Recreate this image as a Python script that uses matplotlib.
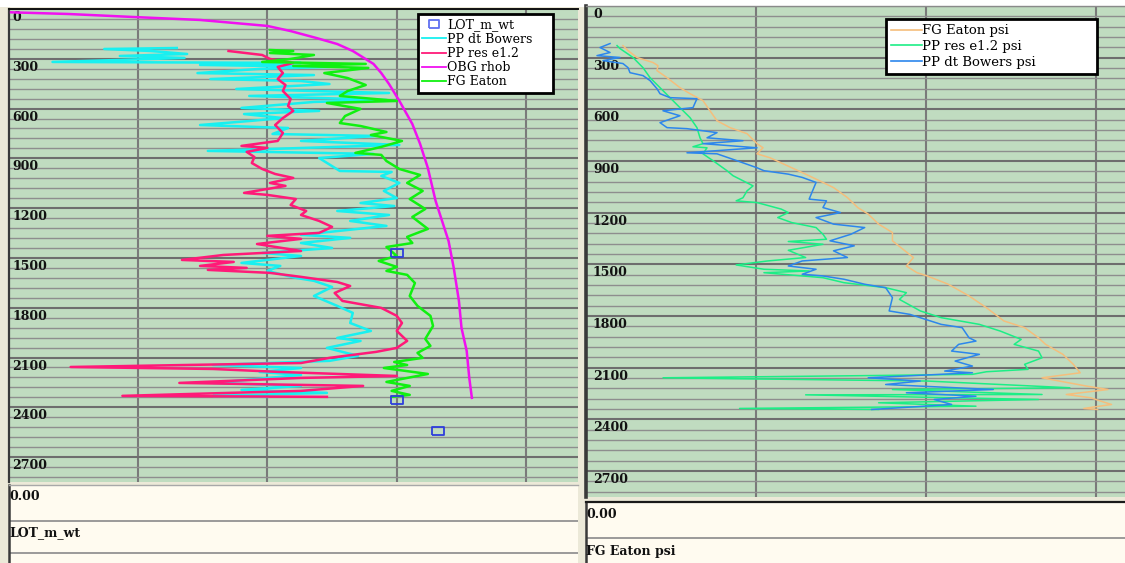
import matplotlib
matplotlib.use("Agg")
import matplotlib.pyplot as plt
from matplotlib.lines import Line2D
from matplotlib.patches import Rectangle

# ---------------- data ----------------
depth_major = list(range(0, 2701, 300))
depth_minor = list(range(0, 2851, 60))
depth_max = 2850

# left track: gradients (sg)
lot_depth = [1470, 2355, 2542]
lot_sg = [1.50, 1.50, 1.66]

bowers_depth = [235, 241, 253, 271, 283, 295, 319, 325, 337, 349, 361, 386, 398, 422, 434, 452,
                482, 506, 524, 548, 560, 596, 614, 633, 657, 675, 699, 717, 753, 765, 795, 819,
                855, 873, 898, 976, 982, 1006, 1048, 1096, 1139, 1169, 1187, 1217, 1241, 1277,
                1307, 1361, 1379, 1410, 1440, 1470, 1488, 1530, 1548, 1578, 1620, 1638, 1675,
                1729, 1789, 1831, 1892, 1940, 1982, 2000, 2042, 2090, 2120, 2145, 2163, 2187,
                2205, 2253, 2271, 2295, 2313, 2331, 2337]
bowers_sg = [0.65, 0.37, 0.55, 0.69, 0.43, 0.68, 0.17, 1.13, 0.74, 1.24, 0.97, 0.73, 1.18, 0.78,
             1.13, 1.24, 0.88, 1.47, 0.93, 1.46, 1.18, 0.90, 1.20, 0.91, 1.06, 0.93, 0.74, 1.08,
             1.02, 1.42, 1.13, 1.51, 0.77, 1.41, 1.20, 1.28, 1.48, 1.44, 1.51, 1.45, 1.50, 1.36,
             1.49, 1.27, 1.47, 1.32, 1.46, 1.13, 1.32, 1.13, 1.25, 0.98, 1.13, 0.90, 1.05, 1.00,
             1.11, 1.18, 1.25, 1.18, 1.27, 1.33, 1.32, 1.40, 1.27, 1.36, 1.23, 1.35, 1.24, 0.79,
             1.13, 0.97, 1.13, 0.79, 1.13, 0.90, 1.23, 0.79, 1.00]

res_depth = [253, 277, 301, 325, 349, 386, 422, 458, 494, 542, 584, 614, 657, 699, 747, 795,
             825, 837, 861, 892, 928, 964, 994, 1018, 1048, 1066, 1108, 1120, 1145, 1181, 1217,
             1241, 1277, 1313, 1349, 1367, 1385, 1416, 1458, 1482, 1512, 1524, 1548, 1560, 1572,
             1590, 1614, 1645, 1669, 1711, 1759, 1801, 1849, 1892, 1940, 2000, 2042, 2066, 2102,
             2133, 2157, 2169, 2187, 2211, 2223, 2253, 2271, 2301, 2331, 2337]
res_sg = [0.85, 0.98, 1.01, 1.10, 1.04, 1.06, 1.04, 1.07, 1.06, 1.09, 1.08, 1.10, 1.06, 1.03,
          1.06, 1.04, 0.90, 1.00, 0.92, 0.95, 0.94, 0.98, 1.03, 1.10, 1.01, 1.07, 0.91, 1.00,
          1.11, 1.09, 1.15, 1.13, 1.20, 1.25, 1.20, 1.00, 1.13, 0.96, 1.13, 0.83, 0.67, 0.87,
          0.74, 0.92, 0.77, 1.01, 1.13, 1.27, 1.32, 1.26, 1.29, 1.44, 1.50, 1.52, 1.50, 1.54,
          1.50, 1.42, 1.24, 1.13, 0.24, 0.79, 1.05, 1.50, 1.13, 0.66, 1.37, 1.13, 0.44, 1.23]

obg_depth = [20, 30, 48, 66, 102, 133, 175, 211, 253, 331, 386, 452, 554, 693, 813, 958, 1157,
             1398, 1560, 1759, 1922, 2060, 2223, 2343]
obg_sg = [0.01, 0.23, 0.48, 0.74, 1.00, 1.09, 1.19, 1.27, 1.33, 1.41, 1.44, 1.47, 1.51, 1.56,
          1.59, 1.62, 1.65, 1.70, 1.72, 1.74, 1.75, 1.77, 1.78, 1.79]

fg_depth = [247, 253, 265, 277, 301, 319, 331, 343, 355, 386, 416, 458, 494, 524, 554, 566,
            602, 645, 687, 705, 741, 759, 795, 831, 867, 879, 916, 964, 1000, 1048, 1096, 1145,
            1205, 1253, 1325, 1373, 1410, 1434, 1488, 1518, 1554, 1578, 1602, 1651, 1729, 1789,
            1849, 1910, 1988, 2030, 2072, 2102, 2127, 2145, 2163, 2199, 2223, 2247, 2271, 2301,
            2325, 2337]
fg_sg = [1.01, 1.10, 1.01, 1.18, 1.09, 0.98, 1.38, 1.10, 1.39, 1.22, 1.31, 1.38, 1.31, 1.28,
         1.50, 1.23, 1.36, 1.30, 1.28, 1.36, 1.46, 1.40, 1.52, 1.44, 1.34, 1.44, 1.46, 1.51,
         1.59, 1.54, 1.60, 1.55, 1.61, 1.56, 1.62, 1.54, 1.56, 1.46, 1.50, 1.43, 1.50, 1.46,
         1.54, 1.57, 1.55, 1.58, 1.63, 1.64, 1.61, 1.63, 1.58, 1.60, 1.49, 1.54, 1.45, 1.62,
         1.54, 1.46, 1.55, 1.48, 1.55, 1.48]

# right track: pressures (psi)
fg_psi_depth = [230, 259, 299, 328, 346, 375, 416, 474, 509, 549, 608, 666, 706, 741, 799, 823,
                858, 881, 976, 1024, 1054, 1112, 1170, 1208, 1266, 1315, 1363, 1412, 1460, 1509,
                1548, 1567, 1615, 1683, 1751, 1828, 1867, 1926, 1964, 2022, 2080, 2129, 2158,
                2177, 2207, 2226, 2255, 2274, 2294, 2313, 2336, 2342]
fg_psi = [326, 371, 450, 591, 635, 626, 715, 829, 918, 1032, 1094, 1156, 1271, 1421, 1509, 1562,
          1509, 1624, 1938, 2091, 2184, 2307, 2398, 2490, 2582, 2704, 2704, 2797, 2889, 2827,
          2920, 3012, 3196, 3380, 3533, 3687, 3870, 3993, 4055, 4208, 4300, 4361, 4024, 4177,
          4423, 4606, 4238, 4453, 4545, 4637, 4392, 4514]

res_psi_depth = [230, 247, 299, 358, 416, 474, 532, 590, 648, 706, 765, 799, 817, 823, 858, 898,
                 956, 985, 1044, 1073, 1113, 1131, 1141, 1179, 1199, 1228, 1257, 1286, 1325,
                 1354, 1367, 1383, 1418, 1460, 1480, 1503, 1528, 1538, 1548, 1577, 1606, 1635,
                 1664, 1703, 1770, 1809, 1848, 1887, 1935, 1964, 2003, 2042, 2080, 2109, 2123,
                 2138, 2146, 2158, 2177, 2216, 2226, 2255, 2257, 2284, 2303, 2323, 2336, 2342]
res_psi = [274, 300, 415, 503, 565, 653, 741, 829, 918, 979, 1006, 1032, 944, 1068, 1032, 1121,
           1244, 1297, 1474, 1421, 1385, 1325, 1509, 1723, 1785, 1692, 1815, 2030, 2091, 2122,
           1785, 2091, 1785, 1938, 1601, 1325, 1570, 1969, 1570, 2091, 2276, 2644, 2827, 2766,
           2950, 3134, 3471, 3656, 3840, 3778, 3993, 4024, 3870, 3901, 3533, 3410, 2398, 680,
           3012, 4269, 2704, 4024, 1938, 3993, 2582, 3441, 1355, 2582]

bowers_psi_depth = [218, 241, 270, 288, 299, 317, 334, 358, 387, 404, 433, 480, 509, 532, 538,
                    590, 608, 637, 677, 706, 712, 735, 765, 782, 799, 823, 852, 858, 898, 939,
                    956, 976, 995, 1024, 1121, 1131, 1170, 1199, 1228, 1266, 1286, 1325, 1363,
                    1392, 1421, 1460, 1480, 1509, 1528, 1557, 1567, 1586, 1615, 1635, 1693, 1770,
                    1790, 1848, 1867, 1926, 1945, 1964, 2003, 2022, 2061, 2090, 2119, 2129, 2158,
                    2177, 2197, 2226, 2245, 2265, 2284, 2313, 2342]
bowers_psi = [212, 124, 212, 97, 300, 150, 326, 371, 388, 503, 565, 626, 653, 741, 979, 944, 679,
              829, 653, 715, 891, 1156, 1068, 1385, 1032, 1509, 891, 1156, 1332, 1509, 1570,
              1785, 1908, 2030, 1969, 2122, 2091, 2245, 2030, 2184, 2459, 2337, 2153, 2367, 2184,
              2307, 1908, 1785, 2030, 1908, 2091, 2276, 2459, 2644, 2704, 2675, 2858, 3134, 3319,
              3380, 3441, 3288, 3226, 3471, 3257, 3410, 3165, 3410, 2490, 2950, 2644, 3594, 2827,
              3441, 3073, 3226, 2521]

left_labels = ["LOT_m_wt", "PP dt Bowers", "PP res e1.2", "OBG rhob", "FG Eaton"]
right_labels = ["FG Eaton psi", "PP res e1.2 psi", "PP dt Bowers psi"]

# ---------------- styling ----------------
W, H = 1125, 563
TRACK_BG = "#C0DCC0"
PANEL_BG = "#FFFBF0"
SERIF = "DejaVu Serif"

c_lot, c_bowers, c_res, c_obg, c_fg = "#2E3EDC", "#18F0F0", "#FF1A78", "#F010F0", "#10F010"
c_fg_psi, c_res_psi, c_bowers_psi = "#F5BE7C", "#1CEE86", "#2C86EC"

fig = plt.figure(figsize=(W / 100, H / 100), dpi=100, facecolor="#ECE9D8")


def frame(x0, y0, x1, y1):
    return [x0 / W, 1 - y1 / H, (x1 - x0) / W, (y1 - y0) / H]


fig.add_artist(Rectangle((0, 1 - 7 / H), 1, 7 / H, transform=fig.transFigure,
                         facecolor="white", edgecolor="none", zorder=-1))


def style_track(ax, xmax, xgrid, label_dx):
    ax.set_facecolor(TRACK_BG)
    ax.set_xlim(0, xmax)
    ax.set_ylim(depth_max, 0)
    ax.set_xticks(xgrid)
    ax.set_yticks(depth_major)
    ax.set_yticks(depth_minor, minor=True)
    ax.tick_params(which="both", length=0, labelleft=False, labelbottom=False)
    ax.grid(True, which="major", axis="x", color="#7A7A7A", lw=1.5)
    ax.grid(True, which="major", axis="y", color="#6E6E6E", lw=1.5)
    ax.grid(True, which="minor", axis="y", color="#8E8E8E", lw=1.0)
    ax.set_axisbelow(True)
    for d in depth_major:
        ax.annotate(f"{d}", xy=(0, d), xycoords=("axes fraction", "data"),
                    xytext=(label_dx, -2), textcoords="offset pixels",
                    ha="left", va="top", fontsize=9, fontweight="bold",
                    family=SERIF, color="#111111", zorder=2)
    for s in ("right", "bottom"):
        ax.spines[s].set_visible(False)


# left track
axL = fig.add_axes(frame(8.5, 9, 578, 482))
style_track(axL, 2.2, [0.5, 1.0, 1.5, 2.0], 4)
axL.spines["left"].set_color("#3A3A3A")
axL.spines["left"].set_linewidth(1.6)
axL.spines["top"].set_color("#111111")
axL.spines["top"].set_linewidth(1.4)

rect_marker = [(-1.45, -1), (1.45, -1), (1.45, 1), (-1.45, 1), (-1.45, -1)]
axL.plot(bowers_sg, bowers_depth, color=c_bowers, lw=1.8, zorder=3)
axL.plot(res_sg, res_depth, color=c_res, lw=1.8, zorder=3)
axL.plot(obg_sg, obg_depth, color=c_obg, lw=1.8, zorder=3)
axL.plot(fg_sg, fg_depth, color=c_fg, lw=1.8, zorder=3)
axL.plot(lot_sg, lot_depth, ls="none", marker=rect_marker, ms=8.5, mfc="none",
         mec=c_lot, mew=1.3, zorder=4)

hL = [Line2D([], [], ls="none", marker=rect_marker, ms=7.5, mfc="none", mec="#6070F0", mew=1.3),
      Line2D([], [], color=c_bowers, lw=1.3),
      Line2D([], [], color=c_res, lw=1.3),
      Line2D([], [], color=c_obg, lw=1.3),
      Line2D([], [], color=c_fg, lw=1.3)]
legL = axL.legend(hL, left_labels, loc="upper left",
                  bbox_to_anchor=frame(418, 14, 553, 98)[:2] + [135 / W, 84 / H],
                  bbox_transform=fig.transFigure, mode="expand", borderaxespad=0,
                  fancybox=False, framealpha=1, edgecolor="black",
                  prop=dict(family=SERIF, size=9), handlelength=1.9, handletextpad=0.1,
                  labelspacing=0.1, borderpad=0.35)
legL.get_frame().set_linewidth(2.0)

# right track
axR = fig.add_axes(frame(586, 6, 1125, 497))
style_track(axR, 4756, [1500, 3000, 4500], 7)
axR.spines["left"].set_color("#3A3A3A")
axR.spines["left"].set_linewidth(2.6)
axR.spines["top"].set_color("#8A8A8A")
axR.spines["top"].set_linewidth(1.0)

axR.plot(fg_psi, fg_psi_depth, color=c_fg_psi, lw=1.1, zorder=3)
axR.plot(res_psi, res_psi_depth, color=c_res_psi, lw=1.1, zorder=3)
axR.plot(bowers_psi, bowers_psi_depth, color=c_bowers_psi, lw=1.1, zorder=3)

hR = [Line2D([], [], color=c_fg_psi, lw=1.2),
      Line2D([], [], color=c_res_psi, lw=1.2),
      Line2D([], [], color=c_bowers_psi, lw=1.2)]
legR = axR.legend(hR, right_labels, loc="upper left",
                  bbox_to_anchor=frame(886, 19, 1097, 78)[:2] + [211 / W, 59 / H],
                  bbox_transform=fig.transFigure, mode="expand", borderaxespad=0,
                  fancybox=False, framealpha=1, edgecolor="black",
                  prop=dict(family=SERIF, size=9.5), handlelength=2.3, handletextpad=0.05,
                  labelspacing=0.2, borderpad=0.4)
legR.get_frame().set_linewidth(2.0)


# value / name panels below each track
def info_panel(x0, y0, x1, y1, rows, rules, top_color, top_lw):
    ax = fig.add_axes(frame(x0, y0, x1, y1))
    ax.set_facecolor(PANEL_BG)
    ax.set_xlim(0, x1 - x0)
    ax.set_ylim(y1 - y0, 0)
    ax.set_xticks([])
    ax.set_yticks([])
    for s in ("right", "bottom"):
        ax.spines[s].set_visible(False)
    ax.spines["left"].set_color("#3A3A3A")
    ax.spines["left"].set_linewidth(1.8)
    ax.spines["top"].set_color(top_color)
    ax.spines["top"].set_linewidth(top_lw)
    for yy in rules:
        ax.axhline(yy, color="#8A8A8A", lw=1.2)
    for yy, txt in rows:
        ax.text(0.5, yy, txt, ha="left", va="center", fontsize=9,
                fontweight="bold", family=SERIF, color="#111111")
    return ax


info_panel(8.5, 485, 578, 563, [(12, "0.00"), (48, "LOT_m_wt")], [36, 68], "#A8A8A8", 1.0)
info_panel(586, 502, 1125, 563, [(13, "0.00"), (49, "FG Eaton psi")], [36], "#1A1A1A", 1.6)

fig.savefig("out.png", dpi=100, facecolor=fig.get_facecolor())
